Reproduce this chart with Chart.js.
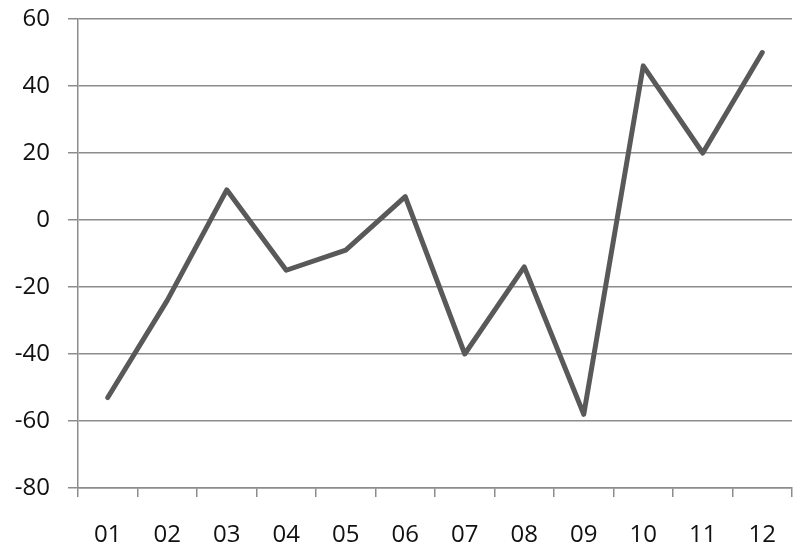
<!DOCTYPE html>
<html>
<head>
<meta charset="utf-8">
<script src="https://cdn.jsdelivr.net/npm/chart.js@4/dist/chart.umd.min.js"></script>
<style>
html,body{margin:0;padding:0;background:#fff;}
#wrap{width:800px;height:558px;}
</style>
</head>
<body>
<div id="wrap"><canvas id="c" width="800" height="558"></canvas></div>
<script>
const categories = ["01","02","03","04","05","06","07","08","09","10","11","12"];
const values = [-53, -24, 9, -15, -9, 7, -40, -14, -58, 46, 20, 50];
const yMin = -80, yMax = 60, yStep = 20;

const gridColor = "#8c8c8c";
new Chart(document.getElementById("c"), {
  type: "line",
  data: {
    labels: categories,
    datasets: [{
      data: values,
      borderColor: "#595959",
      borderWidth: 5,
      borderCapStyle: "round",
      borderJoinStyle: "round",
      pointRadius: 0,
      tension: 0,
      fill: false
    }]
  },
  options: {
    responsive: false,
    animation: false,
    plugins: { legend: { display: false }, tooltip: { enabled: false } },
    layout: { padding: { top: 19, right: 8, bottom: 0, left: 0 } },
    scales: {
      x: {
        type: "category",
        offset: true,
        grid: { offset: true, drawOnChartArea: false, drawTicks: true, tickLength: 9, color: gridColor, lineWidth: 1.5 },
        border: { display: true, color: gridColor, width: 1.5 },
        ticks: { color: "#111", font: { family: "Open Sans", size: 24 }, padding: 24, maxRotation: 0 },
        afterFit(s) { s.height = 70; s.paddingLeft = 0; s.paddingRight = 0; }
      },
      y: {
        min: yMin, max: yMax,
        grid: { color: gridColor, lineWidth: 1.5, tickLength: 10, drawTicks: true },
        border: { display: true, color: gridColor, width: 1.5 },
        ticks: { stepSize: yStep, color: "#111", font: { family: "Open Sans", size: 24 }, padding: 18 },
        afterFit(s) { s.width = 78; s.paddingTop = 0; s.paddingBottom = 0; }
      }
    }
  }
});
</script>
</body>
</html>
